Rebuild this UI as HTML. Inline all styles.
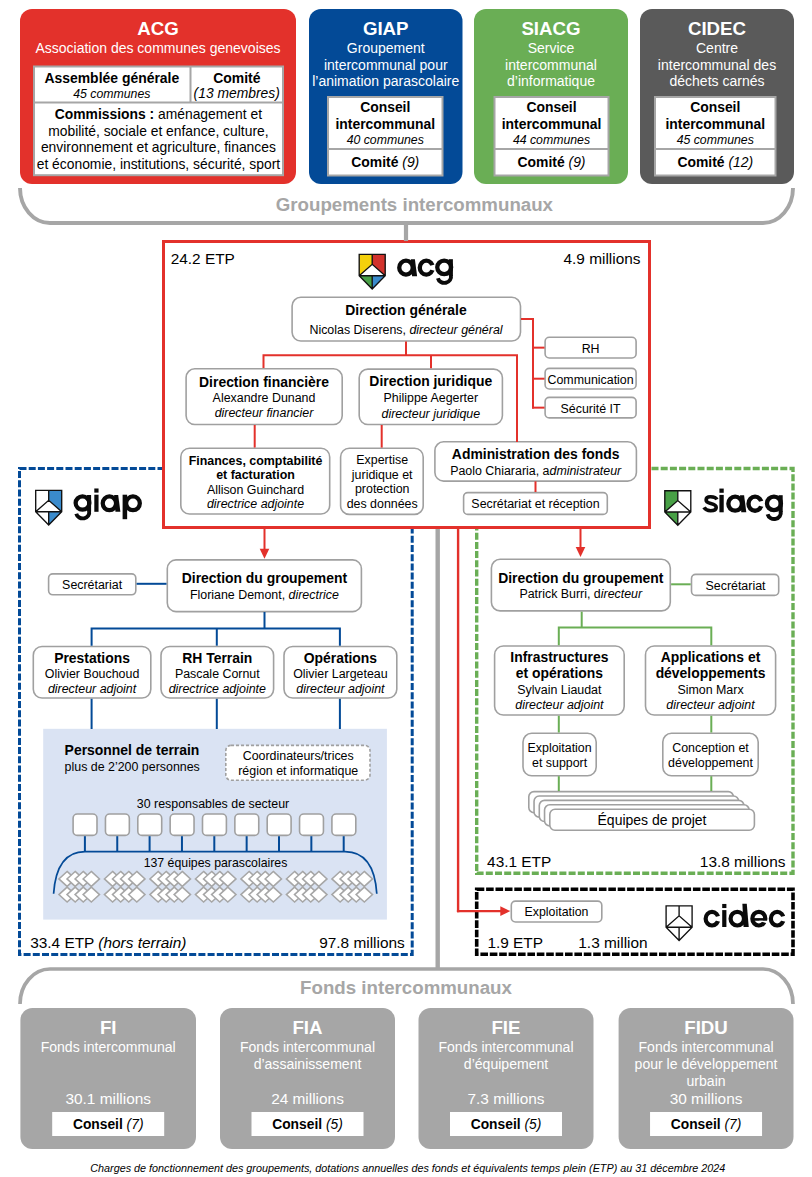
<!DOCTYPE html>
<html><head><meta charset="utf-8"><style>
html,body{margin:0;padding:0;background:#fff;}
body{width:812px;height:1177px;position:relative;overflow:hidden;font-family:"Liberation Sans",sans-serif;}
.b{position:absolute;box-sizing:border-box;}
.t{position:absolute;white-space:nowrap;}
svg{position:absolute;left:0;top:0;}
</style></head><body>
<svg width="812" height="1177" viewBox="0 0 812 1177">
<path d="M19.5,468.5 H412.2 V954.6 H19.5 Z" fill="none" stroke="#034a97" stroke-width="3.0" stroke-linecap="butt" stroke-linejoin="miter" stroke-dasharray="7.0 2.2"/>
<path d="M476.7,468.5 H793 V873.2 H476.7 Z" fill="none" stroke="#6aae55" stroke-width="3.4" stroke-linecap="butt" stroke-linejoin="miter" stroke-dasharray="7.0 2.2"/>
</svg>
<svg width="812" height="1177" viewBox="0 0 812 1177">
<rect x="20.00" y="9.00" width="276.00" height="175.00" rx="12" fill="#e3312b"/>
<rect x="309.00" y="9.00" width="153.50" height="175.00" rx="12" fill="#034a97"/>
<rect x="474.00" y="9.00" width="154.00" height="175.00" rx="12" fill="#6aae55"/>
<rect x="640.00" y="9.00" width="154.00" height="175.00" rx="12" fill="#5a5a5a"/>
<rect x="34.00" y="66.50" width="249.00" height="108.70" rx="0.00" fill="#fff" stroke="#a6a6a6" stroke-width="2"/>
<rect x="34.00" y="101.50" width="249.00" height="2.00" rx="0" fill="#a6a6a6"/>
<rect x="189.50" y="66.00" width="2.00" height="36.50" rx="0" fill="#a6a6a6"/>
<rect x="328.00" y="97.00" width="114.50" height="78.50" rx="0.00" fill="#fff" stroke="#a6a6a6" stroke-width="2"/>
<rect x="328.00" y="148.00" width="114.50" height="2.00" rx="0" fill="#a6a6a6"/>
<rect x="494.50" y="97.00" width="114.00" height="78.50" rx="0.00" fill="#fff" stroke="#a6a6a6" stroke-width="2"/>
<rect x="494.50" y="148.00" width="114.00" height="2.00" rx="0" fill="#a6a6a6"/>
<rect x="655.00" y="97.00" width="120.50" height="78.50" rx="0.00" fill="#fff" stroke="#a6a6a6" stroke-width="2"/>
<rect x="655.00" y="148.00" width="120.50" height="2.00" rx="0" fill="#a6a6a6"/>
<rect x="163.50" y="241.50" width="486.00" height="286.00" rx="0.00" fill="#fff" stroke="#e3312b" stroke-width="3"/>
<rect x="292.10" y="297.30" width="228.40" height="43.70" rx="8.70" fill="#fff" stroke="#a0a0a0" stroke-width="1.6"/>
<rect x="545.10" y="337.30" width="91.00" height="20.70" rx="4.20" fill="#fff" stroke="#a0a0a0" stroke-width="1.6"/>
<rect x="545.10" y="368.40" width="91.00" height="20.60" rx="4.20" fill="#fff" stroke="#a0a0a0" stroke-width="1.6"/>
<rect x="545.10" y="397.40" width="91.00" height="20.50" rx="4.20" fill="#fff" stroke="#a0a0a0" stroke-width="1.6"/>
<rect x="186.10" y="368.80" width="156.10" height="55.70" rx="8.70" fill="#fff" stroke="#a0a0a0" stroke-width="1.6"/>
<rect x="359.20" y="369.10" width="143.20" height="55.40" rx="8.70" fill="#fff" stroke="#a0a0a0" stroke-width="1.6"/>
<rect x="180.80" y="448.20" width="148.90" height="65.80" rx="8.70" fill="#fff" stroke="#a0a0a0" stroke-width="1.6"/>
<rect x="340.60" y="448.20" width="82.60" height="66.20" rx="8.70" fill="#fff" stroke="#a0a0a0" stroke-width="1.6"/>
<rect x="434.90" y="441.80" width="201.50" height="39.30" rx="8.70" fill="#fff" stroke="#a0a0a0" stroke-width="1.6"/>
<rect x="463.60" y="492.60" width="143.70" height="21.80" rx="4.20" fill="#fff" stroke="#a0a0a0" stroke-width="1.6"/>
<rect x="167.30" y="559.90" width="194.10" height="51.70" rx="8.70" fill="#fff" stroke="#a0a0a0" stroke-width="1.6"/>
<rect x="48.60" y="573.90" width="87.20" height="20.90" rx="4.20" fill="#fff" stroke="#a0a0a0" stroke-width="1.6"/>
<rect x="33.30" y="646.50" width="117.50" height="51.50" rx="8.70" fill="#fff" stroke="#a0a0a0" stroke-width="1.6"/>
<rect x="161.00" y="646.50" width="112.60" height="51.50" rx="8.70" fill="#fff" stroke="#a0a0a0" stroke-width="1.6"/>
<rect x="284.00" y="646.50" width="112.80" height="51.50" rx="8.70" fill="#fff" stroke="#a0a0a0" stroke-width="1.6"/>
<rect x="43.20" y="728.80" width="343.70" height="190.80" rx="0" fill="#dae3f3"/>
<rect x="225.80" y="745.40" width="144.20" height="34.80" rx="5.20" fill="#fff" stroke="#a0a0a0" stroke-width="1.6" stroke-dasharray="3 2"/>
<rect x="73.10" y="814.00" width="23.90" height="21.40" rx="4.20" fill="#fff" stroke="#a0a0a0" stroke-width="1.6"/>
<rect x="105.45" y="814.00" width="23.90" height="21.40" rx="4.20" fill="#fff" stroke="#a0a0a0" stroke-width="1.6"/>
<rect x="137.80" y="814.00" width="23.90" height="21.40" rx="4.20" fill="#fff" stroke="#a0a0a0" stroke-width="1.6"/>
<rect x="170.15" y="814.00" width="23.90" height="21.40" rx="4.20" fill="#fff" stroke="#a0a0a0" stroke-width="1.6"/>
<rect x="202.50" y="814.00" width="23.90" height="21.40" rx="4.20" fill="#fff" stroke="#a0a0a0" stroke-width="1.6"/>
<rect x="234.85" y="814.00" width="23.90" height="21.40" rx="4.20" fill="#fff" stroke="#a0a0a0" stroke-width="1.6"/>
<rect x="267.20" y="814.00" width="23.90" height="21.40" rx="4.20" fill="#fff" stroke="#a0a0a0" stroke-width="1.6"/>
<rect x="299.55" y="814.00" width="23.90" height="21.40" rx="4.20" fill="#fff" stroke="#a0a0a0" stroke-width="1.6"/>
<rect x="331.90" y="814.00" width="23.90" height="21.40" rx="4.20" fill="#fff" stroke="#a0a0a0" stroke-width="1.6"/>
<rect x="491.40" y="559.30" width="178.90" height="51.60" rx="8.70" fill="#fff" stroke="#a0a0a0" stroke-width="1.6"/>
<rect x="691.50" y="574.40" width="87.20" height="21.00" rx="4.20" fill="#fff" stroke="#a0a0a0" stroke-width="1.6"/>
<rect x="494.60" y="646.00" width="129.60" height="69.00" rx="8.70" fill="#fff" stroke="#a0a0a0" stroke-width="1.6"/>
<rect x="645.50" y="646.00" width="130.10" height="69.00" rx="8.70" fill="#fff" stroke="#a0a0a0" stroke-width="1.6"/>
<rect x="523.00" y="733.30" width="73.20" height="42.50" rx="8.70" fill="#fff" stroke="#a0a0a0" stroke-width="1.6"/>
<rect x="662.80" y="733.30" width="95.40" height="42.50" rx="8.70" fill="#fff" stroke="#a0a0a0" stroke-width="1.6"/>
<rect x="528.80" y="791.60" width="204.60" height="21.10" rx="5.20" fill="#fff" stroke="#a0a0a0" stroke-width="1.6"/>
<rect x="534.05" y="796.00" width="204.60" height="21.10" rx="5.20" fill="#fff" stroke="#a0a0a0" stroke-width="1.6"/>
<rect x="539.30" y="800.40" width="204.60" height="21.10" rx="5.20" fill="#fff" stroke="#a0a0a0" stroke-width="1.6"/>
<rect x="544.55" y="804.80" width="204.60" height="21.10" rx="5.20" fill="#fff" stroke="#a0a0a0" stroke-width="1.6"/>
<rect x="549.80" y="809.20" width="204.60" height="21.10" rx="5.20" fill="#fff" stroke="#a0a0a0" stroke-width="1.6"/>
<rect x="511.30" y="901.10" width="90.50" height="20.90" rx="4.20" fill="#fff" stroke="#a0a0a0" stroke-width="1.6"/>
<rect x="20.40" y="1007.90" width="175.60" height="141.10" rx="12" fill="#a6a6a6"/>
<rect x="52.20" y="1112.00" width="112.00" height="24.00" rx="0" fill="#fff"/>
<rect x="220.00" y="1007.90" width="175.00" height="141.10" rx="12" fill="#a6a6a6"/>
<rect x="251.50" y="1112.00" width="112.00" height="24.00" rx="0" fill="#fff"/>
<rect x="418.50" y="1007.90" width="175.00" height="141.10" rx="12" fill="#a6a6a6"/>
<rect x="450.00" y="1112.00" width="112.00" height="24.00" rx="0" fill="#fff"/>
<rect x="618.60" y="1007.90" width="174.90" height="141.10" rx="12" fill="#a6a6a6"/>
<rect x="650.05" y="1112.00" width="112.00" height="24.00" rx="0" fill="#fff"/>
<path d="M20,188 A30,35 0 0 0 50,223 L763,223 A30,35 0 0 0 793,188" fill="none" stroke="#a6a6a6" stroke-width="3.9" stroke-linecap="butt" stroke-linejoin="miter"/>
<path d="M406,223 L406,241" fill="none" stroke="#a6a6a6" stroke-width="4.2" stroke-linecap="butt"/>
<path d="M521,318.9 L533,318.9 L533,408.6" fill="none" stroke="#e3312b" stroke-width="2" stroke-linecap="butt"/>
<path d="M532,347.65 L544.5,347.65" fill="none" stroke="#e3312b" stroke-width="2" stroke-linecap="butt"/>
<path d="M532,378.70000000000005 L544.5,378.70000000000005" fill="none" stroke="#e3312b" stroke-width="2" stroke-linecap="butt"/>
<path d="M532,407.65 L544.5,407.65" fill="none" stroke="#e3312b" stroke-width="2" stroke-linecap="butt"/>
<path d="M406,341.5 L406,355.2" fill="none" stroke="#e3312b" stroke-width="2" stroke-linecap="butt"/>
<path d="M263.5,368 L263.5,355.2 L517,355.2 L517,442" fill="none" stroke="#e3312b" stroke-width="2" stroke-linecap="butt"/>
<path d="M431,355.2 L431,368.3" fill="none" stroke="#e3312b" stroke-width="2" stroke-linecap="butt"/>
<path d="M254.7,425 L254.7,447.6" fill="none" stroke="#e3312b" stroke-width="2" stroke-linecap="butt"/>
<path d="M381.7,425 L381.7,447.6" fill="none" stroke="#e3312b" stroke-width="2" stroke-linecap="butt"/>
<path d="M535.5,481.3 L535.5,492" fill="none" stroke="#e3312b" stroke-width="2" stroke-linecap="butt"/>
<path d="M476.7,889.3 H793 V954.2 H476.7 Z" fill="none" stroke="#000" stroke-width="3.6" stroke-linecap="butt" stroke-linejoin="miter" stroke-dasharray="7.6 1.8"/>
<path d="M437.7,529 L437.7,969" fill="none" stroke="#a6a6a6" stroke-width="4.4" stroke-linecap="butt"/>
<path d="M20,1004 A30,35 0 0 1 50,969 L763,969 A30,35 0 0 1 793,1004" fill="none" stroke="#a6a6a6" stroke-width="3.7" stroke-linecap="butt" stroke-linejoin="miter"/>
<path d="M458.1,529 L458.1,912.2" fill="none" stroke="#e3312b" stroke-width="2.4" stroke-linecap="butt"/>
<path d="M456.9,911.1 L502.3,911.1" stroke="#e3312b" stroke-width="2.4" fill="none"/>
<path d="M500.3,906.3000000000001 L500.3,915.9 L510.3,911.1 Z" fill="#e3312b"/>
<path d="M264.5,529 L264.5,550.8" fill="none" stroke="#e3312b" stroke-width="2" stroke-linecap="butt"/>
<path d="M259.7,548.8 L269.3,548.8 L264.5,558.8 Z" fill="#e3312b"/>
<path d="M580.5,529 L580.5,549" fill="none" stroke="#e3312b" stroke-width="2" stroke-linecap="butt"/>
<path d="M575.7,547 L585.3,547 L580.5,557 Z" fill="#e3312b"/>
<path d="M136.6,583.8 L166.5,583.8" fill="none" stroke="#034a97" stroke-width="2" stroke-linecap="butt"/>
<path d="M264.5,612 L264.5,628.5" fill="none" stroke="#034a97" stroke-width="2" stroke-linecap="butt"/>
<path d="M91.6,645.7 L91.6,628.5 L339.9,628.5 L339.9,645.7" fill="none" stroke="#034a97" stroke-width="2" stroke-linecap="butt"/>
<path d="M216.8,628.5 L216.8,645.7" fill="none" stroke="#034a97" stroke-width="2" stroke-linecap="butt"/>
<path d="M91.6,698.8 L91.6,729" fill="none" stroke="#034a97" stroke-width="2" stroke-linecap="butt"/>
<path d="M216.8,698.8 L216.8,729" fill="none" stroke="#034a97" stroke-width="2" stroke-linecap="butt"/>
<path d="M339.9,698.8 L339.9,729" fill="none" stroke="#034a97" stroke-width="2" stroke-linecap="butt"/>
<path d="M84.89999999999999,836.2 L84.89999999999999,851.6" fill="none" stroke="#034a97" stroke-width="2" stroke-linecap="butt"/>
<path d="M117.25,836.2 L117.25,851.6" fill="none" stroke="#034a97" stroke-width="2" stroke-linecap="butt"/>
<path d="M149.6,836.2 L149.6,851.6" fill="none" stroke="#034a97" stroke-width="2" stroke-linecap="butt"/>
<path d="M181.95000000000002,836.2 L181.95000000000002,851.6" fill="none" stroke="#034a97" stroke-width="2" stroke-linecap="butt"/>
<path d="M214.29999999999998,836.2 L214.29999999999998,851.6" fill="none" stroke="#034a97" stroke-width="2" stroke-linecap="butt"/>
<path d="M246.65,836.2 L246.65,851.6" fill="none" stroke="#034a97" stroke-width="2" stroke-linecap="butt"/>
<path d="M279.00000000000006,836.2 L279.00000000000006,851.6" fill="none" stroke="#034a97" stroke-width="2" stroke-linecap="butt"/>
<path d="M311.35,836.2 L311.35,851.6" fill="none" stroke="#034a97" stroke-width="2" stroke-linecap="butt"/>
<path d="M343.70000000000005,836.2 L343.70000000000005,851.6" fill="none" stroke="#034a97" stroke-width="2" stroke-linecap="butt"/>
<path d="M53.6,893.7 C55.5,866 66,851.6 85,851.6 L345,851.6 C364,851.6 375,866 376.8,893.7" fill="none" stroke="#034a97" stroke-width="1.7" stroke-linecap="butt" stroke-linejoin="miter"/>
<path d="M671.1,584.3 L690.7,584.3" fill="none" stroke="#6aae55" stroke-width="2" stroke-linecap="butt"/>
<path d="M581.7,611.7 L581.7,627.5" fill="none" stroke="#6aae55" stroke-width="2" stroke-linecap="butt"/>
<path d="M558.8,645.2 L558.8,627.5 L711.3,627.5 L711.3,645.2" fill="none" stroke="#6aae55" stroke-width="2" stroke-linecap="butt"/>
<path d="M558.8,715.8 L558.8,732.5" fill="none" stroke="#6aae55" stroke-width="2" stroke-linecap="butt"/>
<path d="M711.3,715.8 L711.3,732.5" fill="none" stroke="#6aae55" stroke-width="2" stroke-linecap="butt"/>
<path d="M558.8,776.2 L558.8,791" fill="none" stroke="#6aae55" stroke-width="2" stroke-linecap="butt"/>
<path d="M711.3,776.2 L711.3,791" fill="none" stroke="#6aae55" stroke-width="2" stroke-linecap="butt"/>
<path d="M67.10,871.40 L75.30,878.90 L67.10,886.40 L58.90,878.90 Z" fill="#fff" stroke="#a6a6a6" stroke-width="1.5"/>
<path d="M75.17,871.40 L83.37,878.90 L75.17,886.40 L66.97,878.90 Z" fill="#fff" stroke="#a6a6a6" stroke-width="1.5"/>
<path d="M83.24,871.40 L91.44,878.90 L83.24,886.40 L75.04,878.90 Z" fill="#fff" stroke="#a6a6a6" stroke-width="1.5"/>
<path d="M91.31,871.40 L99.51,878.90 L91.31,886.40 L83.11,878.90 Z" fill="#fff" stroke="#a6a6a6" stroke-width="1.5"/>
<path d="M67.10,887.10 L75.30,894.60 L67.10,902.10 L58.90,894.60 Z" fill="#fff" stroke="#a6a6a6" stroke-width="1.5"/>
<path d="M75.17,887.10 L83.37,894.60 L75.17,902.10 L66.97,894.60 Z" fill="#fff" stroke="#a6a6a6" stroke-width="1.5"/>
<path d="M83.24,887.10 L91.44,894.60 L83.24,902.10 L75.04,894.60 Z" fill="#fff" stroke="#a6a6a6" stroke-width="1.5"/>
<path d="M91.31,887.10 L99.51,894.60 L91.31,902.10 L83.11,894.60 Z" fill="#fff" stroke="#a6a6a6" stroke-width="1.5"/>
<path d="M112.60,871.40 L120.80,878.90 L112.60,886.40 L104.40,878.90 Z" fill="#fff" stroke="#a6a6a6" stroke-width="1.5"/>
<path d="M120.67,871.40 L128.87,878.90 L120.67,886.40 L112.47,878.90 Z" fill="#fff" stroke="#a6a6a6" stroke-width="1.5"/>
<path d="M128.74,871.40 L136.94,878.90 L128.74,886.40 L120.54,878.90 Z" fill="#fff" stroke="#a6a6a6" stroke-width="1.5"/>
<path d="M136.81,871.40 L145.01,878.90 L136.81,886.40 L128.61,878.90 Z" fill="#fff" stroke="#a6a6a6" stroke-width="1.5"/>
<path d="M112.60,887.10 L120.80,894.60 L112.60,902.10 L104.40,894.60 Z" fill="#fff" stroke="#a6a6a6" stroke-width="1.5"/>
<path d="M120.67,887.10 L128.87,894.60 L120.67,902.10 L112.47,894.60 Z" fill="#fff" stroke="#a6a6a6" stroke-width="1.5"/>
<path d="M128.74,887.10 L136.94,894.60 L128.74,902.10 L120.54,894.60 Z" fill="#fff" stroke="#a6a6a6" stroke-width="1.5"/>
<path d="M136.81,887.10 L145.01,894.60 L136.81,902.10 L128.61,894.60 Z" fill="#fff" stroke="#a6a6a6" stroke-width="1.5"/>
<path d="M158.10,871.40 L166.30,878.90 L158.10,886.40 L149.90,878.90 Z" fill="#fff" stroke="#a6a6a6" stroke-width="1.5"/>
<path d="M166.17,871.40 L174.37,878.90 L166.17,886.40 L157.97,878.90 Z" fill="#fff" stroke="#a6a6a6" stroke-width="1.5"/>
<path d="M174.24,871.40 L182.44,878.90 L174.24,886.40 L166.04,878.90 Z" fill="#fff" stroke="#a6a6a6" stroke-width="1.5"/>
<path d="M182.31,871.40 L190.51,878.90 L182.31,886.40 L174.11,878.90 Z" fill="#fff" stroke="#a6a6a6" stroke-width="1.5"/>
<path d="M158.10,887.10 L166.30,894.60 L158.10,902.10 L149.90,894.60 Z" fill="#fff" stroke="#a6a6a6" stroke-width="1.5"/>
<path d="M166.17,887.10 L174.37,894.60 L166.17,902.10 L157.97,894.60 Z" fill="#fff" stroke="#a6a6a6" stroke-width="1.5"/>
<path d="M174.24,887.10 L182.44,894.60 L174.24,902.10 L166.04,894.60 Z" fill="#fff" stroke="#a6a6a6" stroke-width="1.5"/>
<path d="M182.31,887.10 L190.51,894.60 L182.31,902.10 L174.11,894.60 Z" fill="#fff" stroke="#a6a6a6" stroke-width="1.5"/>
<path d="M203.60,871.40 L211.80,878.90 L203.60,886.40 L195.40,878.90 Z" fill="#fff" stroke="#a6a6a6" stroke-width="1.5"/>
<path d="M211.67,871.40 L219.87,878.90 L211.67,886.40 L203.47,878.90 Z" fill="#fff" stroke="#a6a6a6" stroke-width="1.5"/>
<path d="M219.74,871.40 L227.94,878.90 L219.74,886.40 L211.54,878.90 Z" fill="#fff" stroke="#a6a6a6" stroke-width="1.5"/>
<path d="M227.81,871.40 L236.01,878.90 L227.81,886.40 L219.61,878.90 Z" fill="#fff" stroke="#a6a6a6" stroke-width="1.5"/>
<path d="M203.60,887.10 L211.80,894.60 L203.60,902.10 L195.40,894.60 Z" fill="#fff" stroke="#a6a6a6" stroke-width="1.5"/>
<path d="M211.67,887.10 L219.87,894.60 L211.67,902.10 L203.47,894.60 Z" fill="#fff" stroke="#a6a6a6" stroke-width="1.5"/>
<path d="M219.74,887.10 L227.94,894.60 L219.74,902.10 L211.54,894.60 Z" fill="#fff" stroke="#a6a6a6" stroke-width="1.5"/>
<path d="M227.81,887.10 L236.01,894.60 L227.81,902.10 L219.61,894.60 Z" fill="#fff" stroke="#a6a6a6" stroke-width="1.5"/>
<path d="M249.10,871.40 L257.30,878.90 L249.10,886.40 L240.90,878.90 Z" fill="#fff" stroke="#a6a6a6" stroke-width="1.5"/>
<path d="M257.17,871.40 L265.37,878.90 L257.17,886.40 L248.97,878.90 Z" fill="#fff" stroke="#a6a6a6" stroke-width="1.5"/>
<path d="M265.24,871.40 L273.44,878.90 L265.24,886.40 L257.04,878.90 Z" fill="#fff" stroke="#a6a6a6" stroke-width="1.5"/>
<path d="M273.31,871.40 L281.51,878.90 L273.31,886.40 L265.11,878.90 Z" fill="#fff" stroke="#a6a6a6" stroke-width="1.5"/>
<path d="M249.10,887.10 L257.30,894.60 L249.10,902.10 L240.90,894.60 Z" fill="#fff" stroke="#a6a6a6" stroke-width="1.5"/>
<path d="M257.17,887.10 L265.37,894.60 L257.17,902.10 L248.97,894.60 Z" fill="#fff" stroke="#a6a6a6" stroke-width="1.5"/>
<path d="M265.24,887.10 L273.44,894.60 L265.24,902.10 L257.04,894.60 Z" fill="#fff" stroke="#a6a6a6" stroke-width="1.5"/>
<path d="M273.31,887.10 L281.51,894.60 L273.31,902.10 L265.11,894.60 Z" fill="#fff" stroke="#a6a6a6" stroke-width="1.5"/>
<path d="M294.60,871.40 L302.80,878.90 L294.60,886.40 L286.40,878.90 Z" fill="#fff" stroke="#a6a6a6" stroke-width="1.5"/>
<path d="M302.67,871.40 L310.87,878.90 L302.67,886.40 L294.47,878.90 Z" fill="#fff" stroke="#a6a6a6" stroke-width="1.5"/>
<path d="M310.74,871.40 L318.94,878.90 L310.74,886.40 L302.54,878.90 Z" fill="#fff" stroke="#a6a6a6" stroke-width="1.5"/>
<path d="M318.81,871.40 L327.01,878.90 L318.81,886.40 L310.61,878.90 Z" fill="#fff" stroke="#a6a6a6" stroke-width="1.5"/>
<path d="M294.60,887.10 L302.80,894.60 L294.60,902.10 L286.40,894.60 Z" fill="#fff" stroke="#a6a6a6" stroke-width="1.5"/>
<path d="M302.67,887.10 L310.87,894.60 L302.67,902.10 L294.47,894.60 Z" fill="#fff" stroke="#a6a6a6" stroke-width="1.5"/>
<path d="M310.74,887.10 L318.94,894.60 L310.74,902.10 L302.54,894.60 Z" fill="#fff" stroke="#a6a6a6" stroke-width="1.5"/>
<path d="M318.81,887.10 L327.01,894.60 L318.81,902.10 L310.61,894.60 Z" fill="#fff" stroke="#a6a6a6" stroke-width="1.5"/>
<path d="M340.10,871.40 L348.30,878.90 L340.10,886.40 L331.90,878.90 Z" fill="#fff" stroke="#a6a6a6" stroke-width="1.5"/>
<path d="M348.17,871.40 L356.37,878.90 L348.17,886.40 L339.97,878.90 Z" fill="#fff" stroke="#a6a6a6" stroke-width="1.5"/>
<path d="M356.24,871.40 L364.44,878.90 L356.24,886.40 L348.04,878.90 Z" fill="#fff" stroke="#a6a6a6" stroke-width="1.5"/>
<path d="M364.31,871.40 L372.51,878.90 L364.31,886.40 L356.11,878.90 Z" fill="#fff" stroke="#a6a6a6" stroke-width="1.5"/>
<path d="M340.10,887.10 L348.30,894.60 L340.10,902.10 L331.90,894.60 Z" fill="#fff" stroke="#a6a6a6" stroke-width="1.5"/>
<path d="M348.17,887.10 L356.37,894.60 L348.17,902.10 L339.97,894.60 Z" fill="#fff" stroke="#a6a6a6" stroke-width="1.5"/>
<path d="M356.24,887.10 L364.44,894.60 L356.24,902.10 L348.04,894.60 Z" fill="#fff" stroke="#a6a6a6" stroke-width="1.5"/>
<path d="M364.31,887.10 L372.51,894.60 L364.31,902.10 L356.11,894.60 Z" fill="#fff" stroke="#a6a6a6" stroke-width="1.5"/>
<path d="M359.2,254.4 H372.2 V264.3 L359.2,275.7 Z" fill="#f4d00c"/>
<path d="M372.2,254.4 H385.2 V275.7 L372.2,264.3 Z" fill="#d2322c"/>
<path d="M359.2,275.7 H372.2 V289.0 Z" fill="#48a046"/>
<path d="M372.2,275.7 H385.2 L372.2,289.0 Z" fill="#3a8bcc"/>
<path d="M359.2,254.4 H385.2 V275.7 L372.2,289.0 L359.2,275.7 Z M372.2,254.4 V264.3 M359.2,275.7 L372.2,264.3 L385.2,275.7 M359.2,275.7 H385.2 M372.2,275.7 V289.0" fill="none" stroke="#111" stroke-width="1.35" stroke-linejoin="miter" stroke-miterlimit="2"/>
<g transform="translate(397.1,258.9) scale(1.0000)"><ellipse cx="8.9" cy="8.75" rx="6.75" ry="6.95" fill="none" stroke="#0a0a0a" stroke-width="4.3"/><path d="M13.7,0.4 L17.8,0.4 L20.0,17.3 L15.0,17.3 Z" fill="#0a0a0a"/></g>
<g transform="translate(417.8,258.9) scale(1.0000)"><ellipse cx="8.5" cy="8.75" rx="6.5" ry="7.0" fill="none" stroke="#0a0a0a" stroke-width="4.3"/><path d="M5,8.75 L18,5.4 L18,12.1 Z" fill="#fff"/></g>
<g transform="translate(435.2,258.9) scale(1.0000)"><ellipse cx="9.0" cy="8.45" rx="6.95" ry="6.7" fill="none" stroke="#0a0a0a" stroke-width="4.3"/><rect x="13.6" y="0.3" width="4.1" height="16.9" fill="#0a0a0a"/><path d="M15.65,16.5 A6.65,6.1 0 0 1 2.7,19.3" fill="none" stroke="#0a0a0a" stroke-width="3.9"/></g>
<path d="M35.7,490.4 H48.7 V500.29999999999995 L35.7,511.7 Z" fill="#fff"/>
<path d="M48.7,490.4 H61.7 V511.7 L48.7,500.29999999999995 Z" fill="#3a8bcc"/>
<path d="M35.7,511.7 H48.7 V525.0 Z" fill="#fff"/>
<path d="M48.7,511.7 H61.7 L48.7,525.0 Z" fill="#3a8bcc"/>
<path d="M35.7,490.4 H61.7 V511.7 L48.7,525.0 L35.7,511.7 Z M48.7,490.4 V500.29999999999995 M35.7,511.7 L48.7,500.29999999999995 L61.7,511.7 M35.7,511.7 H61.7 M48.7,511.7 V525.0" fill="none" stroke="#111" stroke-width="1.35" stroke-linejoin="miter" stroke-miterlimit="2"/>
<g transform="translate(73.6,494.7) scale(0.9884)"><ellipse cx="9.0" cy="8.45" rx="6.95" ry="6.7" fill="none" stroke="#0a0a0a" stroke-width="4.3"/><rect x="13.6" y="0.3" width="4.1" height="16.9" fill="#0a0a0a"/><path d="M15.65,16.5 A6.65,6.1 0 0 1 2.7,19.3" fill="none" stroke="#0a0a0a" stroke-width="3.9"/></g>
<g transform="translate(94.3,494.7) scale(0.9884)"><rect x="0" y="0" width="4.3" height="17.3" fill="#0a0a0a"/><rect x="0" y="-6.3" width="4.3" height="4.199999999999999" fill="#0a0a0a"/></g>
<g transform="translate(100.6,494.7) scale(0.9884)"><ellipse cx="8.9" cy="8.75" rx="6.75" ry="6.95" fill="none" stroke="#0a0a0a" stroke-width="4.3"/><path d="M13.7,0.4 L17.8,0.4 L20.0,17.3 L15.0,17.3 Z" fill="#0a0a0a"/></g>
<g transform="translate(122.6,494.7) scale(0.9884)"><rect x="0" y="0" width="4.6" height="24.8" fill="#0a0a0a"/><ellipse cx="10.5" cy="8.75" rx="6.95" ry="6.95" fill="none" stroke="#0a0a0a" stroke-width="4.3"/></g>
<path d="M664.8,490.7 H677.8 V500.59999999999997 L664.8,512.0 Z" fill="#48a046"/>
<path d="M677.8,490.7 H690.8 V512.0 L677.8,500.59999999999997 Z" fill="#fff"/>
<path d="M664.8,512.0 H677.8 V525.3 Z" fill="#48a046"/>
<path d="M677.8,512.0 H690.8 L677.8,525.3 Z" fill="#fff"/>
<path d="M664.8,490.7 H690.8 V512.0 L677.8,525.3 L664.8,512.0 Z M677.8,490.7 V500.59999999999997 M664.8,512.0 L677.8,500.59999999999997 L690.8,512.0 M664.8,512.0 H690.8 M677.8,512.0 V525.3" fill="none" stroke="#111" stroke-width="1.35" stroke-linejoin="miter" stroke-miterlimit="2"/>
<g transform="translate(702.2,494.9) scale(1.0058)"><path d="M14.6,4.5 C13.8,2.6 11.5,1.8 8.3,1.8 C5.3,1.8 3.9,3.2 3.9,5.0 C3.9,7.1 5.8,7.8 8.5,8.5 C11.8,9.3 13.9,10.1 13.9,12.3 C13.9,14.4 11.9,15.7 8.4,15.7 C5.2,15.7 2.9,14.5 1.8,12.5" fill="none" stroke="#0a0a0a" stroke-width="3.6"/></g>
<g transform="translate(719.4,494.9) scale(1.0058)"><rect x="0" y="0" width="4.3" height="17.3" fill="#0a0a0a"/><rect x="0" y="-6.3" width="4.3" height="4.199999999999999" fill="#0a0a0a"/></g>
<g transform="translate(726.2,494.9) scale(1.0058)"><ellipse cx="8.9" cy="8.75" rx="6.75" ry="6.95" fill="none" stroke="#0a0a0a" stroke-width="4.3"/><path d="M13.7,0.4 L17.8,0.4 L20.0,17.3 L15.0,17.3 Z" fill="#0a0a0a"/></g>
<g transform="translate(746.5,494.9) scale(1.0058)"><ellipse cx="8.5" cy="8.75" rx="6.5" ry="7.0" fill="none" stroke="#0a0a0a" stroke-width="4.3"/><path d="M5,8.75 L18,5.4 L18,12.1 Z" fill="#fff"/></g>
<g transform="translate(764.9,494.9) scale(1.0058)"><ellipse cx="9.0" cy="8.45" rx="6.95" ry="6.7" fill="none" stroke="#0a0a0a" stroke-width="4.3"/><rect x="13.6" y="0.3" width="4.1" height="16.9" fill="#0a0a0a"/><path d="M15.65,16.5 A6.65,6.1 0 0 1 2.7,19.3" fill="none" stroke="#0a0a0a" stroke-width="3.9"/></g>
<path d="M666.1,905.9 H679.1 V915.8 L666.1,927.1999999999999 Z" fill="#fff"/>
<path d="M679.1,905.9 H692.1 V927.1999999999999 L679.1,915.8 Z" fill="#fff"/>
<path d="M666.1,927.1999999999999 H679.1 V940.5 Z" fill="#fff"/>
<path d="M679.1,927.1999999999999 H692.1 L679.1,940.5 Z" fill="#fff"/>
<path d="M666.1,905.9 H692.1 V927.1999999999999 L679.1,940.5 L666.1,927.1999999999999 Z M679.1,905.9 V915.8 M666.1,927.1999999999999 L679.1,915.8 L692.1,927.1999999999999 M666.1,927.1999999999999 H692.1 M679.1,927.1999999999999 V940.5" fill="none" stroke="#111" stroke-width="1.35" stroke-linejoin="miter" stroke-miterlimit="2"/>
<g transform="translate(703.7,910.1) scale(0.9769)"><ellipse cx="8.5" cy="8.75" rx="6.5" ry="7.0" fill="none" stroke="#0a0a0a" stroke-width="4.3"/><path d="M5,8.75 L18,5.4 L18,12.1 Z" fill="#fff"/></g>
<g transform="translate(722.2,910.1) scale(0.9769)"><rect x="0" y="0" width="4.3" height="17.3" fill="#0a0a0a"/><rect x="0" y="-6.3" width="4.3" height="4.199999999999999" fill="#0a0a0a"/></g>
<g transform="translate(728.6,910.1) scale(0.9769)"><ellipse cx="8.9" cy="8.75" rx="6.85" ry="7.0" fill="none" stroke="#0a0a0a" stroke-width="4.3"/><path d="M14.1,-6.4 L18.6,-6.4 L20.6,17.3 L15.3,17.3 Z" fill="#0a0a0a"/></g>
<g transform="translate(750.3,910.1) scale(0.9769)"><ellipse cx="8.75" cy="8.75" rx="6.65" ry="7.0" fill="none" stroke="#0a0a0a" stroke-width="4.3"/><rect x="1.9" y="8.2" width="13.7" height="2.700000000000001" fill="#0a0a0a"/><path d="M8.75,10.9 L18.5,10.9 L18.5,14.0 Z" fill="#fff"/></g>
<g transform="translate(768.9,910.1) scale(0.9769)"><ellipse cx="8.5" cy="8.75" rx="6.5" ry="7.0" fill="none" stroke="#0a0a0a" stroke-width="4.3"/><path d="M5,8.75 L18,5.4 L18,12.1 Z" fill="#fff"/></g>
</svg>
<div class="t" style="left:-242.00px;width:800px;text-align:center;top:20.00px;font-size:18.7px;line-height:18.7px;font-weight:bold;font-style:normal;color:#fff">ACG</div>
<div class="t" style="left:-242.00px;width:800px;text-align:center;top:41.00px;font-size:14.0px;line-height:14.0px;font-weight:normal;font-style:normal;color:#fff">Association des communes genevoises</div>
<div class="t" style="left:-14.25px;width:800px;text-align:center;top:20.00px;font-size:18.7px;line-height:18.7px;font-weight:bold;font-style:normal;color:#fff">GIAP</div>
<div class="t" style="left:-14.25px;width:800px;text-align:center;top:41.00px;font-size:14.0px;line-height:14.0px;font-weight:normal;font-style:normal;color:#fff">Groupement</div>
<div class="t" style="left:-14.25px;width:800px;text-align:center;top:58.00px;font-size:14.0px;line-height:14.0px;font-weight:normal;font-style:normal;color:#fff">intercommunal pour</div>
<div class="t" style="left:-14.25px;width:800px;text-align:center;top:74.00px;font-size:14.0px;line-height:14.0px;font-weight:normal;font-style:normal;color:#fff">l’animation parascolaire</div>
<div class="t" style="left:151.00px;width:800px;text-align:center;top:20.00px;font-size:18.7px;line-height:18.7px;font-weight:bold;font-style:normal;color:#fff">SIACG</div>
<div class="t" style="left:151.00px;width:800px;text-align:center;top:41.00px;font-size:14.0px;line-height:14.0px;font-weight:normal;font-style:normal;color:#fff">Service</div>
<div class="t" style="left:151.00px;width:800px;text-align:center;top:58.00px;font-size:14.0px;line-height:14.0px;font-weight:normal;font-style:normal;color:#fff">intercommunal</div>
<div class="t" style="left:151.00px;width:800px;text-align:center;top:74.00px;font-size:14.0px;line-height:14.0px;font-weight:normal;font-style:normal;color:#fff">d’informatique</div>
<div class="t" style="left:317.00px;width:800px;text-align:center;top:20.00px;font-size:18.7px;line-height:18.7px;font-weight:bold;font-style:normal;color:#fff">CIDEC</div>
<div class="t" style="left:317.00px;width:800px;text-align:center;top:41.00px;font-size:14.0px;line-height:14.0px;font-weight:normal;font-style:normal;color:#fff">Centre</div>
<div class="t" style="left:317.00px;width:800px;text-align:center;top:58.00px;font-size:14.0px;line-height:14.0px;font-weight:normal;font-style:normal;color:#fff">intercommunal des</div>
<div class="t" style="left:317.00px;width:800px;text-align:center;top:74.00px;font-size:14.0px;line-height:14.0px;font-weight:normal;font-style:normal;color:#fff">déchets carnés</div>
<div class="t" style="left:-288.20px;width:800px;text-align:center;top:72.00px;font-size:13.95px;line-height:13.95px;font-weight:bold;font-style:normal;color:#000">Assemblée générale</div>
<div class="t" style="left:-288.20px;width:800px;text-align:center;top:88.00px;font-size:12.3px;line-height:12.3px;font-weight:normal;font-style:italic;color:#000">45 communes</div>
<div class="t" style="left:-163.20px;width:800px;text-align:center;top:72.00px;font-size:13.95px;line-height:13.95px;font-weight:bold;font-style:normal;color:#000">Comité</div>
<div class="t" style="left:-163.30px;width:800px;text-align:center;top:87.00px;font-size:13.85px;line-height:13.85px;font-weight:normal;font-style:italic;color:#000">(13 membres)</div>
<div class="t" style="left:-241.60px;width:800px;text-align:center;top:108.00px;font-size:13.87px;line-height:13.87px;font-weight:normal;font-style:normal;color:#000"><b>Commissions :</b> aménagement et</div>
<div class="t" style="left:-241.60px;width:800px;text-align:center;top:125.00px;font-size:13.87px;line-height:13.87px;font-weight:normal;font-style:normal;color:#000">mobilité, sociale et enfance, culture,</div>
<div class="t" style="left:-241.60px;width:800px;text-align:center;top:141.00px;font-size:13.87px;line-height:13.87px;font-weight:normal;font-style:normal;color:#000">environnement et agriculture, finances</div>
<div class="t" style="left:-241.60px;width:800px;text-align:center;top:158.00px;font-size:13.87px;line-height:13.87px;font-weight:normal;font-style:normal;color:#000">et économie, institutions, sécurité, sport</div>
<div class="t" style="left:-14.75px;width:800px;text-align:center;top:101.00px;font-size:13.92px;line-height:13.92px;font-weight:bold;font-style:normal;color:#000">Conseil</div>
<div class="t" style="left:-14.75px;width:800px;text-align:center;top:118.00px;font-size:13.92px;line-height:13.92px;font-weight:bold;font-style:normal;color:#000">intercommunal</div>
<div class="t" style="left:-14.75px;width:800px;text-align:center;top:134.00px;font-size:12.3px;line-height:12.3px;font-weight:normal;font-style:italic;color:#000">40 communes</div>
<div class="t" style="left:-14.75px;width:800px;text-align:center;top:156.00px;font-size:13.92px;line-height:13.92px;font-weight:normal;font-style:normal;color:#000"><b>Comité</b> <i>(9)</i></div>
<div class="t" style="left:151.50px;width:800px;text-align:center;top:101.00px;font-size:13.92px;line-height:13.92px;font-weight:bold;font-style:normal;color:#000">Conseil</div>
<div class="t" style="left:151.50px;width:800px;text-align:center;top:118.00px;font-size:13.92px;line-height:13.92px;font-weight:bold;font-style:normal;color:#000">intercommunal</div>
<div class="t" style="left:151.50px;width:800px;text-align:center;top:134.00px;font-size:12.3px;line-height:12.3px;font-weight:normal;font-style:italic;color:#000">44 communes</div>
<div class="t" style="left:151.50px;width:800px;text-align:center;top:156.00px;font-size:13.92px;line-height:13.92px;font-weight:normal;font-style:normal;color:#000"><b>Comité</b> <i>(9)</i></div>
<div class="t" style="left:315.25px;width:800px;text-align:center;top:101.00px;font-size:13.92px;line-height:13.92px;font-weight:bold;font-style:normal;color:#000">Conseil</div>
<div class="t" style="left:315.25px;width:800px;text-align:center;top:118.00px;font-size:13.92px;line-height:13.92px;font-weight:bold;font-style:normal;color:#000">intercommunal</div>
<div class="t" style="left:315.25px;width:800px;text-align:center;top:134.00px;font-size:12.3px;line-height:12.3px;font-weight:normal;font-style:italic;color:#000">45 communes</div>
<div class="t" style="left:315.25px;width:800px;text-align:center;top:156.00px;font-size:13.92px;line-height:13.92px;font-weight:normal;font-style:normal;color:#000"><b>Comité</b> <i>(12)</i></div>
<div class="t" style="left:14.40px;width:800px;text-align:center;top:196.00px;font-size:18.7px;line-height:18.7px;font-weight:bold;font-style:normal;color:#a6a6a6">Groupements intercommunaux</div>
<div class="t" style="left:170.70px;top:251.00px;font-size:15.4px;line-height:15.4px;font-weight:normal;font-style:normal;color:#000">24.2 ETP</div>
<div class="t" style="left:-159.50px;width:800px;text-align:right;top:251.00px;font-size:15.4px;line-height:15.4px;font-weight:normal;font-style:normal;color:#000">4.9 millions</div>
<div class="t" style="left:6.00px;width:800px;text-align:center;top:304.00px;font-size:13.92px;line-height:13.92px;font-weight:bold;font-style:normal;color:#000">Direction générale</div>
<div class="t" style="left:6.00px;width:800px;text-align:center;top:324.00px;font-size:12.42px;line-height:12.42px;font-weight:normal;font-style:normal;color:#000">Nicolas Diserens, <i>directeur général</i></div>
<div class="t" style="left:190.60px;width:800px;text-align:center;top:343.00px;font-size:12.42px;line-height:12.42px;font-weight:normal;font-style:normal;color:#000">RH</div>
<div class="t" style="left:190.60px;width:800px;text-align:center;top:374.00px;font-size:12.42px;line-height:12.42px;font-weight:normal;font-style:normal;color:#000">Communication</div>
<div class="t" style="left:190.60px;width:800px;text-align:center;top:403.00px;font-size:12.42px;line-height:12.42px;font-weight:normal;font-style:normal;color:#000">Sécurité IT</div>
<div class="t" style="left:-136.00px;width:800px;text-align:center;top:376.00px;font-size:13.92px;line-height:13.92px;font-weight:bold;font-style:normal;color:#000">Direction financière</div>
<div class="t" style="left:-136.00px;width:800px;text-align:center;top:392.00px;font-size:12.42px;line-height:12.42px;font-weight:normal;font-style:normal;color:#000">Alexandre Dunand</div>
<div class="t" style="left:-136.00px;width:800px;text-align:center;top:407.00px;font-size:12.42px;line-height:12.42px;font-weight:normal;font-style:italic;color:#000">directeur financier</div>
<div class="t" style="left:30.80px;width:800px;text-align:center;top:375.00px;font-size:13.92px;line-height:13.92px;font-weight:bold;font-style:normal;color:#000">Direction juridique</div>
<div class="t" style="left:30.80px;width:800px;text-align:center;top:392.00px;font-size:12.42px;line-height:12.42px;font-weight:normal;font-style:normal;color:#000">Philippe Aegerter</div>
<div class="t" style="left:30.80px;width:800px;text-align:center;top:408.00px;font-size:12.42px;line-height:12.42px;font-weight:normal;font-style:italic;color:#000">directeur juridique</div>
<div class="t" style="left:-144.50px;width:800px;text-align:center;top:455.00px;font-size:12.42px;line-height:12.42px;font-weight:bold;font-style:normal;color:#000">Finances, comptabilité</div>
<div class="t" style="left:-144.50px;width:800px;text-align:center;top:469.00px;font-size:12.42px;line-height:12.42px;font-weight:bold;font-style:normal;color:#000">et facturation</div>
<div class="t" style="left:-144.50px;width:800px;text-align:center;top:484.00px;font-size:12.42px;line-height:12.42px;font-weight:normal;font-style:normal;color:#000">Allison Guinchard</div>
<div class="t" style="left:-144.50px;width:800px;text-align:center;top:498.00px;font-size:12.42px;line-height:12.42px;font-weight:normal;font-style:italic;color:#000">directrice adjointe</div>
<div class="t" style="left:-17.80px;width:800px;text-align:center;top:454.00px;font-size:12.42px;line-height:12.42px;font-weight:normal;font-style:normal;color:#000">Expertise</div>
<div class="t" style="left:-17.80px;width:800px;text-align:center;top:469.00px;font-size:12.42px;line-height:12.42px;font-weight:normal;font-style:normal;color:#000">juridique et</div>
<div class="t" style="left:-17.80px;width:800px;text-align:center;top:483.00px;font-size:12.42px;line-height:12.42px;font-weight:normal;font-style:normal;color:#000">protection</div>
<div class="t" style="left:-17.80px;width:800px;text-align:center;top:498.00px;font-size:12.42px;line-height:12.42px;font-weight:normal;font-style:normal;color:#000">des données</div>
<div class="t" style="left:135.70px;width:800px;text-align:center;top:448.00px;font-size:13.92px;line-height:13.92px;font-weight:bold;font-style:normal;color:#000">Administration des fonds</div>
<div class="t" style="left:135.70px;width:800px;text-align:center;top:465.00px;font-size:12.42px;line-height:12.42px;font-weight:normal;font-style:normal;color:#000">Paolo Chiararia, a<i>dministrateur</i></div>
<div class="t" style="left:135.50px;width:800px;text-align:center;top:498.00px;font-size:12.42px;line-height:12.42px;font-weight:normal;font-style:normal;color:#000">Secrétariat et réception</div>
<div class="t" style="left:-135.60px;width:800px;text-align:center;top:572.00px;font-size:13.92px;line-height:13.92px;font-weight:bold;font-style:normal;color:#000">Direction du groupement</div>
<div class="t" style="left:-135.60px;width:800px;text-align:center;top:589.00px;font-size:12.42px;line-height:12.42px;font-weight:normal;font-style:normal;color:#000">Floriane Demont, <i>directrice</i></div>
<div class="t" style="left:-307.90px;width:800px;text-align:center;top:579.00px;font-size:12.42px;line-height:12.42px;font-weight:normal;font-style:normal;color:#000">Secrétariat</div>
<div class="t" style="left:-307.95px;width:800px;text-align:center;top:652.00px;font-size:13.92px;line-height:13.92px;font-weight:bold;font-style:normal;color:#000">Prestations</div>
<div class="t" style="left:-307.95px;width:800px;text-align:center;top:668.00px;font-size:12.42px;line-height:12.42px;font-weight:normal;font-style:normal;color:#000">Olivier Bouchoud</div>
<div class="t" style="left:-307.95px;width:800px;text-align:center;top:683.00px;font-size:12.42px;line-height:12.42px;font-weight:normal;font-style:italic;color:#000">directeur adjoint</div>
<div class="t" style="left:-182.70px;width:800px;text-align:center;top:652.00px;font-size:13.92px;line-height:13.92px;font-weight:bold;font-style:normal;color:#000">RH Terrain</div>
<div class="t" style="left:-182.70px;width:800px;text-align:center;top:668.00px;font-size:12.42px;line-height:12.42px;font-weight:normal;font-style:normal;color:#000">Pascale Cornut</div>
<div class="t" style="left:-182.70px;width:800px;text-align:center;top:683.00px;font-size:12.42px;line-height:12.42px;font-weight:normal;font-style:italic;color:#000">directrice adjointe</div>
<div class="t" style="left:-59.60px;width:800px;text-align:center;top:652.00px;font-size:13.92px;line-height:13.92px;font-weight:bold;font-style:normal;color:#000">Opérations</div>
<div class="t" style="left:-59.60px;width:800px;text-align:center;top:668.00px;font-size:12.42px;line-height:12.42px;font-weight:normal;font-style:normal;color:#000">Olivier Largeteau</div>
<div class="t" style="left:-59.60px;width:800px;text-align:center;top:683.00px;font-size:12.42px;line-height:12.42px;font-weight:normal;font-style:italic;color:#000">directeur adjoint</div>
<div class="t" style="left:64.60px;top:744.00px;font-size:13.95px;line-height:13.95px;font-weight:bold;font-style:normal;color:#000">Personnel de terrain</div>
<div class="t" style="left:64.60px;top:761.00px;font-size:12.42px;line-height:12.42px;font-weight:normal;font-style:normal;color:#000">plus de 2’200 personnes</div>
<div class="t" style="left:-101.80px;width:800px;text-align:center;top:750.00px;font-size:12.42px;line-height:12.42px;font-weight:normal;font-style:normal;color:#000">Coordinateurs/trices</div>
<div class="t" style="left:-101.80px;width:800px;text-align:center;top:765.00px;font-size:12.42px;line-height:12.42px;font-weight:normal;font-style:normal;color:#000">région et informatique</div>
<div class="t" style="left:-187.00px;width:800px;text-align:center;top:798.00px;font-size:12.42px;line-height:12.42px;font-weight:normal;font-style:normal;color:#000">30 responsables de secteur</div>
<div class="t" style="left:-184.50px;width:800px;text-align:center;top:857.00px;font-size:12.32px;line-height:12.32px;font-weight:normal;font-style:normal;color:#000">137 équipes parascolaires</div>
<div class="t" style="left:30.20px;top:935.00px;font-size:15.4px;line-height:15.4px;font-weight:normal;font-style:normal;color:#000">33.4 ETP <i>(hors terrain)</i></div>
<div class="t" style="left:-395.30px;width:800px;text-align:right;top:935.00px;font-size:15.4px;line-height:15.4px;font-weight:normal;font-style:normal;color:#000">97.8 millions</div>
<div class="t" style="left:180.80px;width:800px;text-align:center;top:572.00px;font-size:13.92px;line-height:13.92px;font-weight:bold;font-style:normal;color:#000">Direction du groupement</div>
<div class="t" style="left:180.80px;width:800px;text-align:center;top:588.00px;font-size:12.42px;line-height:12.42px;font-weight:normal;font-style:normal;color:#000">Patrick Burri, d<i>irecteur</i></div>
<div class="t" style="left:335.50px;width:800px;text-align:center;top:580.00px;font-size:12.42px;line-height:12.42px;font-weight:normal;font-style:normal;color:#000">Secrétariat</div>
<div class="t" style="left:159.40px;width:800px;text-align:center;top:651.00px;font-size:13.92px;line-height:13.92px;font-weight:bold;font-style:normal;color:#000">Infrastructures</div>
<div class="t" style="left:159.40px;width:800px;text-align:center;top:667.00px;font-size:13.92px;line-height:13.92px;font-weight:bold;font-style:normal;color:#000">et opérations</div>
<div class="t" style="left:159.40px;width:800px;text-align:center;top:684.00px;font-size:12.42px;line-height:12.42px;font-weight:normal;font-style:normal;color:#000">Sylvain Liaudat</div>
<div class="t" style="left:159.40px;width:800px;text-align:center;top:699.00px;font-size:12.42px;line-height:12.42px;font-weight:normal;font-style:italic;color:#000">directeur adjoint</div>
<div class="t" style="left:310.50px;width:800px;text-align:center;top:651.00px;font-size:13.92px;line-height:13.92px;font-weight:bold;font-style:normal;color:#000">Applications et</div>
<div class="t" style="left:310.50px;width:800px;text-align:center;top:667.00px;font-size:13.92px;line-height:13.92px;font-weight:bold;font-style:normal;color:#000">développements</div>
<div class="t" style="left:310.50px;width:800px;text-align:center;top:684.00px;font-size:12.42px;line-height:12.42px;font-weight:normal;font-style:normal;color:#000">Simon Marx</div>
<div class="t" style="left:310.50px;width:800px;text-align:center;top:699.00px;font-size:12.42px;line-height:12.42px;font-weight:normal;font-style:italic;color:#000">directeur adjoint</div>
<div class="t" style="left:159.60px;width:800px;text-align:center;top:742.00px;font-size:12.42px;line-height:12.42px;font-weight:normal;font-style:normal;color:#000">Exploitation</div>
<div class="t" style="left:159.60px;width:800px;text-align:center;top:757.00px;font-size:12.42px;line-height:12.42px;font-weight:normal;font-style:normal;color:#000">et support</div>
<div class="t" style="left:310.50px;width:800px;text-align:center;top:742.00px;font-size:12.42px;line-height:12.42px;font-weight:normal;font-style:normal;color:#000">Conception et</div>
<div class="t" style="left:310.50px;width:800px;text-align:center;top:757.00px;font-size:12.42px;line-height:12.42px;font-weight:normal;font-style:normal;color:#000">développement</div>
<div class="t" style="left:252.00px;width:800px;text-align:center;top:813.00px;font-size:14.0px;line-height:14.0px;font-weight:normal;font-style:normal;color:#000">Équipes de projet</div>
<div class="t" style="left:487.10px;top:854.00px;font-size:15.4px;line-height:15.4px;font-weight:normal;font-style:normal;color:#000">43.1 ETP</div>
<div class="t" style="left:-14.60px;width:800px;text-align:right;top:854.00px;font-size:15.4px;line-height:15.4px;font-weight:normal;font-style:normal;color:#000">13.8 millions</div>
<div class="t" style="left:156.50px;width:800px;text-align:center;top:906.00px;font-size:12.35px;line-height:12.35px;font-weight:normal;font-style:normal;color:#000">Exploitation</div>
<div class="t" style="left:487.40px;top:935.00px;font-size:15.4px;line-height:15.4px;font-weight:normal;font-style:normal;color:#000">1.9 ETP</div>
<div class="t" style="left:578.30px;top:935.00px;font-size:15.4px;line-height:15.4px;font-weight:normal;font-style:normal;color:#000">1.3 million</div>
<div class="t" style="left:6.00px;width:800px;text-align:center;top:979.00px;font-size:18.7px;line-height:18.7px;font-weight:bold;font-style:normal;color:#a6a6a6">Fonds intercommunaux</div>
<div class="t" style="left:-291.80px;width:800px;text-align:center;top:1019.00px;font-size:18.7px;line-height:18.7px;font-weight:bold;font-style:normal;color:#fff">FI</div>
<div class="t" style="left:-291.80px;width:800px;text-align:center;top:1040.00px;font-size:14.05px;line-height:14.05px;font-weight:normal;font-style:normal;color:#fff">Fonds intercommunal</div>
<div class="t" style="left:-291.80px;width:800px;text-align:center;top:1091.00px;font-size:15.4px;line-height:15.4px;font-weight:normal;font-style:normal;color:#fff">30.1 millions</div>
<div class="t" style="left:-291.80px;width:800px;text-align:center;top:1118.00px;font-size:13.8px;line-height:13.8px;font-weight:normal;font-style:normal;color:#000"><b>Conseil</b> <i>(7)</i></div>
<div class="t" style="left:-92.50px;width:800px;text-align:center;top:1019.00px;font-size:18.7px;line-height:18.7px;font-weight:bold;font-style:normal;color:#fff">FIA</div>
<div class="t" style="left:-92.50px;width:800px;text-align:center;top:1040.00px;font-size:14.05px;line-height:14.05px;font-weight:normal;font-style:normal;color:#fff">Fonds intercommunal</div>
<div class="t" style="left:-92.50px;width:800px;text-align:center;top:1057.00px;font-size:14.05px;line-height:14.05px;font-weight:normal;font-style:normal;color:#fff">d’assainissement</div>
<div class="t" style="left:-92.50px;width:800px;text-align:center;top:1091.00px;font-size:15.4px;line-height:15.4px;font-weight:normal;font-style:normal;color:#fff">24 millions</div>
<div class="t" style="left:-92.50px;width:800px;text-align:center;top:1118.00px;font-size:13.8px;line-height:13.8px;font-weight:normal;font-style:normal;color:#000"><b>Conseil</b> <i>(5)</i></div>
<div class="t" style="left:106.00px;width:800px;text-align:center;top:1019.00px;font-size:18.7px;line-height:18.7px;font-weight:bold;font-style:normal;color:#fff">FIE</div>
<div class="t" style="left:106.00px;width:800px;text-align:center;top:1040.00px;font-size:14.05px;line-height:14.05px;font-weight:normal;font-style:normal;color:#fff">Fonds intercommunal</div>
<div class="t" style="left:106.00px;width:800px;text-align:center;top:1057.00px;font-size:14.05px;line-height:14.05px;font-weight:normal;font-style:normal;color:#fff">d’équipement</div>
<div class="t" style="left:106.00px;width:800px;text-align:center;top:1091.00px;font-size:15.4px;line-height:15.4px;font-weight:normal;font-style:normal;color:#fff">7.3 millions</div>
<div class="t" style="left:106.00px;width:800px;text-align:center;top:1118.00px;font-size:13.8px;line-height:13.8px;font-weight:normal;font-style:normal;color:#000"><b>Conseil</b> <i>(5)</i></div>
<div class="t" style="left:306.05px;width:800px;text-align:center;top:1019.00px;font-size:18.7px;line-height:18.7px;font-weight:bold;font-style:normal;color:#fff">FIDU</div>
<div class="t" style="left:306.05px;width:800px;text-align:center;top:1040.00px;font-size:14.05px;line-height:14.05px;font-weight:normal;font-style:normal;color:#fff">Fonds intercommunal</div>
<div class="t" style="left:306.05px;width:800px;text-align:center;top:1057.00px;font-size:14.05px;line-height:14.05px;font-weight:normal;font-style:normal;color:#fff">pour le développement</div>
<div class="t" style="left:306.05px;width:800px;text-align:center;top:1074.00px;font-size:14.05px;line-height:14.05px;font-weight:normal;font-style:normal;color:#fff">urbain</div>
<div class="t" style="left:306.05px;width:800px;text-align:center;top:1091.00px;font-size:15.4px;line-height:15.4px;font-weight:normal;font-style:normal;color:#fff">30 millions</div>
<div class="t" style="left:306.05px;width:800px;text-align:center;top:1118.00px;font-size:13.8px;line-height:13.8px;font-weight:normal;font-style:normal;color:#000"><b>Conseil</b> <i>(7)</i></div>
<div class="t" style="left:7.80px;width:800px;text-align:center;top:1163.00px;font-size:10.8px;line-height:10.8px;font-weight:normal;font-style:italic;color:#000">Charges de fonctionnement des groupements, dotations annuelles des fonds et équivalents temps plein (ETP) au 31 décembre 2024</div>
</body></html>
